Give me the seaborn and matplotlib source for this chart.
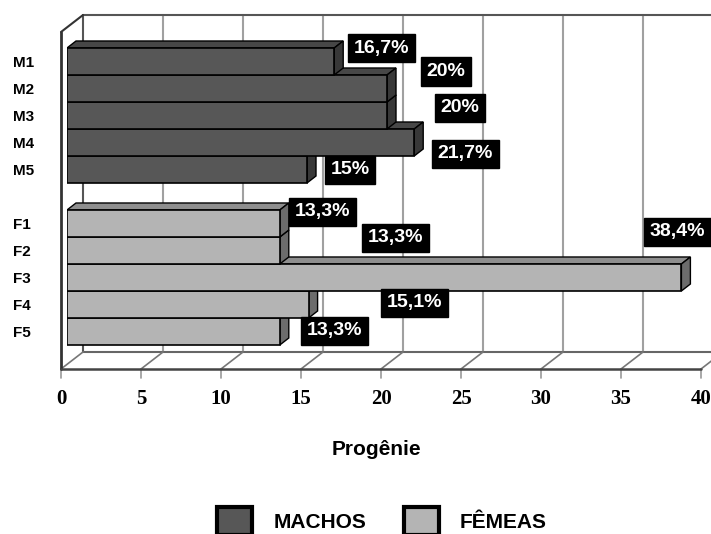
import matplotlib
matplotlib.use("Agg")
import matplotlib.pyplot as plt
from matplotlib.patches import Polygon, Patch
from matplotlib.transforms import ScaledTranslation
import seaborn as sns
import pandas as pd

# dados
categorias = ["M1", "M2", "M3", "M4", "M5", "F1", "F2", "F3", "F4", "F5"]
sexo = ["MACHOS"] * 5 + ["FÊMEAS"] * 5
valores = [16.7, 20, 20, 21.7, 15, 13.3, 13.3, 38.4, 15.1, 13.3]
posicoes = [0, 1, 2, 3, 4, 6, 7, 8, 9, 10]
ticks_x = [0, 5, 10, 15, 20, 25, 30, 35, 40]

# deslocamento (px) de cada rótulo em relação à ponta da barra
rot_dx = [47, 59, 73, 51, 43, 43, 116, -4, 106, 55]
rot_dy = [-13.5, -17, -7.5, 11.5, 0.5, -11.5, -12.5, -45.5, -1.5, -0.5]

cores = {"MACHOS": "#575757", "FÊMEAS": "#b4b4b4"}
cores_topo = {"MACHOS": "#474747", "FÊMEAS": "#8e8e8e"}
cores_lado = {"MACHOS": "#383838", "FÊMEAS": "#6c6c6c"}

# escala em pixels (fig a 100 dpi)
PX_X, PX_Y = 16.0, 27.0
FX, FY = -6 / PX_X, 4.6 / PX_Y      # plano da frente
BX, BY = 16 / PX_X, -12.4 / PX_Y    # parede do fundo
EX, EY = 9 / PX_X, -7 / PX_Y        # profundidade das barras
y_teto, y_chao = -1.263, 11.219

sns.set_style("white")
plt.rcParams["font.family"] = ["Liberation Sans", "DejaVu Sans"]
plt.rcParams["text.color"] = "black"
plt.rcParams["axes.labelcolor"] = "black"
plt.rcParams["xtick.color"] = "black"
plt.rcParams["ytick.color"] = "black"

fig = plt.figure(figsize=(7.11, 5.34), dpi=100)
ax = fig.add_axes([67 / 711, (534 - 364.4) / 534, 640 / 711, 337 / 534])
ax.patch.set_alpha(0)

df = pd.DataFrame({"categoria": categorias, "sexo": sexo,
                   "valor": valores, "pos": posicoes})

sns.barplot(data=df, x="valor", y="pos", hue="sexo", orient="h",
            native_scale=True, dodge=False, width=1.0, palette=cores,
            edgecolor="black", linewidth=1.2, errorbar=None, legend=False,
            ax=ax)

ax.set_xlim(0, 40)
ax.set_ylim(y_chao, y_teto)
for s in ax.spines.values():
    s.set_visible(False)
ax.set_ylabel("")

# parede do fundo
for t in ticks_x:
    ax.plot([t + BX, t + BX], [y_teto + BY, y_chao + BY],
            color="#555555" if t == 0 else "#a0a0a0", lw=1.5,
            zorder=1, clip_on=False)
ax.plot([BX, 42 + BX], [y_teto + BY] * 2, color="#555555", lw=1.5,
        zorder=1, clip_on=False)

# parede da esquerda
ax.plot([FX, FX], [y_teto + FY, y_chao + FY], color="#333333", lw=2,
        zorder=2, clip_on=False)
ax.plot([FX, BX], [y_teto + FY, y_teto + BY], color="#333333", lw=1.5,
        zorder=2, clip_on=False)

# chão
ax.plot([FX, 40 + FX], [y_chao + FY] * 2, color="#444444", lw=1.8,
        zorder=2, clip_on=False)
ax.plot([BX, 42 + BX], [y_chao + BY] * 2, color="#666666", lw=1.5,
        zorder=1, clip_on=False)
for t in ticks_x:
    ax.plot([t + FX, t + BX], [y_chao + FY, y_chao + BY], color="#777777",
            lw=1.2, zorder=1.5, clip_on=False)
    ax.plot([t + FX, t + FX], [y_chao + FY, y_chao + FY + 9 / PX_Y],
            color="#999999", lw=1.2, zorder=1.5, clip_on=False)

# faces 3D das barras
for bar in ax.patches:
    y0, h, w = bar.get_y(), bar.get_height(), bar.get_width()
    yc = y0 + h / 2
    grupo = "MACHOS" if yc < 5 else "FÊMEAS"
    z = 3 + (11 - yc) * 0.1
    bar.set_zorder(z)
    topo = Polygon([(0, y0), (w, y0), (w + EX, y0 + EY), (EX, y0 + EY)],
                   closed=True, facecolor=cores_topo[grupo],
                   edgecolor="black", lw=1.0, zorder=z - 0.01)
    lado = Polygon([(w, y0), (w + EX, y0 + EY), (w + EX, y0 + h + EY),
                    (w, y0 + h)], closed=True, facecolor=cores_lado[grupo],
                   edgecolor="black", lw=1.0, zorder=z - 0.01)
    ax.add_patch(topo)
    ax.add_patch(lado)

# rótulos de valor
for v, p, dx, dy in zip(valores, posicoes, rot_dx, rot_dy):
    txt = "{:g}".format(v).replace(".", ",") + "%"
    ax.text(v + dx / PX_X, p + dy / PX_Y, txt, color="white",
            fontsize=14, fontweight="bold", ha="center", va="center",
            zorder=10, clip_on=False,
            bbox=dict(boxstyle="square,pad=0.3", facecolor="black",
                      edgecolor="black"))

# eixo x
ax.set_xticks(ticks_x)
ax.set_xticklabels([str(t) for t in ticks_x], fontfamily="Liberation Serif",
                   fontweight="bold", fontsize=15)
ax.tick_params(axis="x", length=0, pad=18)
desloc = ScaledTranslation(-6 / 100, 0, fig.dpi_scale_trans)
for lab in ax.get_xticklabels():
    lab.set_transform(lab.get_transform() + desloc)

ax.set_xlabel("Progênie", fontsize=15, fontweight="bold", va="center")
ax.xaxis.set_label_coords(0.484, -0.254)

# eixo y
ax.set_yticks(posicoes)
ax.set_yticklabels(categorias, fontfamily="Liberation Sans",
                   fontweight="bold", fontsize=11)
ax.tick_params(axis="y", length=0, pad=39)
for lab in ax.get_yticklabels():
    lab.set_horizontalalignment("left")

# legenda
handles = [Patch(facecolor=cores[k], edgecolor="black", linewidth=3, label=k)
           for k in ["MACHOS", "FÊMEAS"]]
fig.legend(handles=handles, loc="center", ncol=2, frameon=False,
           bbox_to_anchor=(382 / 711, 1 - 521 / 534),
           prop={"family": "Liberation Sans", "weight": "bold", "size": 15},
           handlelength=1.7, handleheight=1.7, handletextpad=1.0,
           columnspacing=1.8)

fig.savefig("out.png", dpi=100)
